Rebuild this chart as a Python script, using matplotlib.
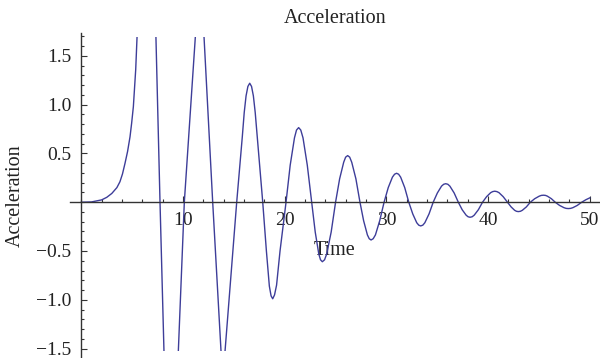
import numpy as np
import matplotlib.pyplot as plt
from matplotlib.patches import Rectangle
from matplotlib.ticker import MultipleLocator, FixedLocator

nan = np.nan

# valeurs (nan = partie coupée par le cadre)
time = [0.0, 1.0, 2.0, 2.5, 3.0, 3.5, 3.8, 4.05, 4.3, 4.55, 4.79, 4.95, 5.12, 5.35, 5.48, nan,
        7.34, 7.74, 8.13, nan,
        9.54, 10.13, 11.21, nan,
        12.07, 12.92, 13.74, nan,
        14.13, 15.28, 15.83, 16.02, 16.2, 16.38, 16.56, 16.74, 16.92, 17.1, 17.3,
        17.84, 18.2, 18.49, 18.66, 18.82, 19.0, 19.2, 19.54,
        20.13, 20.54, 20.96, 21.16, 21.37, 21.58, 21.8, 22.22,
        22.65, 23.0, 23.35, 23.52, 23.7, 23.92, 24.13, 24.57,
        25.0, 25.4, 25.8, 25.99, 26.19, 26.39, 26.59, 27.0,
        27.4, 27.76, 28.13, 28.31, 28.49, 28.7, 28.92, 29.34,
        29.77, 30.18, 30.59, 30.8, 31.0, 31.2, 31.4, 31.8,
        32.2, 32.59, 32.98, 33.18, 33.37, 33.58, 33.78, 34.19,
        34.6, 35.01, 35.42, 35.63, 35.83, 36.04, 36.24, 36.66,
        37.07, 37.45, 37.84, 38.03, 38.22, 38.43, 38.63, 39.04,
        39.45, 39.85, 40.25, 40.45, 40.65, 40.86, 41.07, 41.48,
        41.9, 42.26, 42.61, 42.79, 42.97, 43.17, 43.36, 43.76,
        44.15, 44.58, 45.02, 45.23, 45.45, 45.64, 45.83, 46.22,
        46.6, 47.03, 47.46, 47.67, 47.89, 48.11, 48.33, 48.76,
        49.2, 49.6, 50.0]
accel = [0.0, 0.003, 0.024, 0.05, 0.09, 0.15, 0.21, 0.29, 0.40, 0.52, 0.67, 0.81, 0.98, 1.36, 1.69, nan,
         1.69, 0.0, -1.53, nan,
         -1.53, 0.0, 1.69, nan,
         1.69, 0.0, -1.53, nan,
         -1.53, 0.0, 0.67, 0.92, 1.09, 1.187, 1.22, 1.187, 1.09, 0.92, 0.67,
         0.0, -0.50, -0.86, -0.96, -0.99, -0.95, -0.85, -0.50,
         0.0, 0.38, 0.66, 0.74, 0.765, 0.74, 0.66, 0.38,
         0.0, -0.305, -0.53, -0.59, -0.61, -0.59, -0.53, -0.305,
         0.0, 0.24, 0.41, 0.462, 0.478, 0.462, 0.41, 0.24,
         0.0, -0.19, -0.335, -0.374, -0.387, -0.374, -0.335, -0.19,
         0.0, 0.15, 0.257, 0.287, 0.297, 0.287, 0.257, 0.15,
         0.0, -0.12, -0.21, -0.235, -0.243, -0.235, -0.21, -0.12,
         0.0, 0.095, 0.165, 0.184, 0.19, 0.184, 0.165, 0.095,
         0.0, -0.077, -0.133, -0.149, -0.154, -0.149, -0.133, -0.077,
         0.0, 0.057, 0.098, 0.109, 0.113, 0.109, 0.098, 0.057,
         0.0, -0.048, -0.083, -0.093, -0.096, -0.093, -0.083, -0.048,
         0.0, 0.036, 0.062, 0.07, 0.072, 0.07, 0.062, 0.036,
         0.0, -0.033, -0.056, -0.063, -0.065, -0.063, -0.056, -0.033,
         0.0, 0.025, 0.045]

xticks = [10, 20, 30, 40, 50]
yticks = [-1.5, -1.0, -0.5, 0.5, 1.0, 1.5]

plt.rcParams['font.family'] = ['Liberation Serif', 'DejaVu Serif']
axcol = '#333333'

fig = plt.figure(figsize=(6, 3.58), dpi=100)
ax = fig.add_axes([70/600, 0.0, 530/600, 325/358])

line, = ax.plot(time, accel, color='#3d3d99', lw=1.0)
clip = Rectangle((-5, -1.53), 60, 1.53 + 1.69, transform=ax.transData)
line.set_clip_path(clip)

ax.set_xlim(-1.11, 51.0)
ax.set_ylim(-1.597, 1.735)

ax.spines['left'].set_position(('data', 0))
ax.spines['bottom'].set_position(('data', 0))
ax.spines['top'].set_visible(False)
ax.spines['right'].set_visible(False)
for s in ('left', 'bottom'):
    ax.spines[s].set_color(axcol)
    ax.spines[s].set_linewidth(1.0)

ax.xaxis.set_major_locator(FixedLocator(xticks))
ax.xaxis.set_minor_locator(MultipleLocator(2))
ax.yaxis.set_major_locator(FixedLocator(yticks))
ax.yaxis.set_minor_locator(MultipleLocator(0.1))
ax.set_yticklabels([f"{v:.1f}".replace('-', '\u2212') for v in yticks])

ax.tick_params(which='both', direction='in', color=axcol, width=0.8,
               labelsize=14, labelcolor='#222222')
ax.tick_params(which='major', length=4.2)
ax.tick_params(which='minor', length=2.4)
ax.tick_params(axis='x', which='major', pad=7)
ax.tick_params(axis='y', which='major', pad=7)

ax.set_title("Acceleration", fontsize=14.5, color='#222222', pad=7)
ax.set_xlabel("Time", fontsize=14.5, color='#222222')
ax.xaxis.set_label_coords(0.5, 0.36)
ax.set_ylabel("Acceleration", fontsize=14.5, color='#222222')
ax.yaxis.set_label_coords(-0.086, 0.5)

fig.savefig("out.png", dpi=100)
